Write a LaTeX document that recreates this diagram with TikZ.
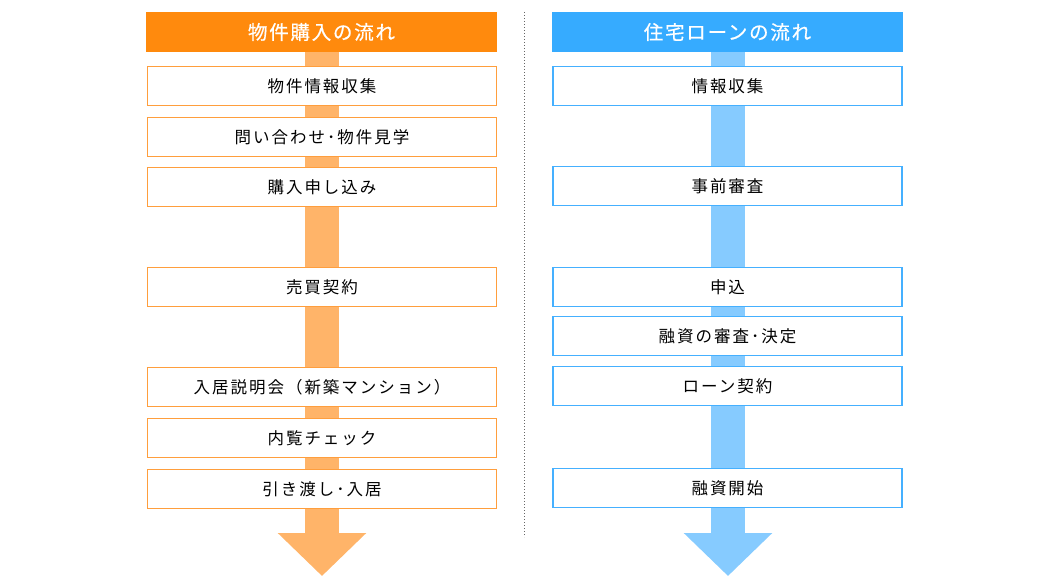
\documentclass[tikz,border=0pt]{standalone}
\usepackage{fontspec}
\setmainfont{Noto Sans CJK JP}
\usetikzlibrary{arrows.meta,backgrounds}

\definecolor{buyhead}{HTML}{FF8A0D}
\definecolor{buyline}{HTML}{FF9E3D}
\definecolor{buyshaft}{HTML}{FFB469}
\definecolor{loanhead}{HTML}{36ABFF}
\definecolor{loanline}{HTML}{45B0FF}
\definecolor{loanshaft}{HTML}{86CBFF}

\begin{document}
\begin{tikzpicture}[x=1pt, y=-1pt,
    head/.style={fill=#1, minimum width=351pt, minimum height=40pt, inner sep=0pt,
      text=white, font=\fontsize{19.5}{22}\selectfont\addfontfeature{LetterSpace=9,FakeBold=0.6}},
    stepbox/.style={draw=#1, line width=1.2pt, fill=white, minimum width=349pt,
      minimum height=39pt, inner sep=0pt,
      font=\fontsize{16.5}{19}\selectfont\addfontfeature{LetterSpace=12}},
    shaft/.style={#1, line width=34pt, -{Triangle[width=86pt, length=43pt]}}]
    \useasboundingbox (0,0) rectangle (1050,586);

    % Purchase flow
    \node[head=buyhead] (buy) at (321.5,32) {物件購入の流れ};
    \node[stepbox=buyline] (b1) at (322,86) {物件情報収集};
    \node[stepbox=buyline] (b2) at (322,137) {問い合わせ･物件見学};
    \node[stepbox=buyline] (b3) at (322,187) {購入申し込み};
    \node[stepbox=buyline] (b4) at (322,287) {売買契約};
    \node[stepbox=buyline] (b5) at (322,387) {入居説明会（新築マンション）};
    \node[stepbox=buyline] (b6) at (322,438) {内覧チェック};
    \node[stepbox=buyline] (b7) at (322,489) {引き渡し･入居};
    \coordinate (buyend) at (322,576);

    % Loan flow
    \node[head=loanhead] (loan) at (727.5,32) {住宅ローンの流れ};
    \node[stepbox=loanline] (l1) at (727.5,86) {情報収集};
    \node[stepbox=loanline] (l2) at (727.5,186) {事前審査};
    \node[stepbox=loanline] (l3) at (727.5,287) {申込};
    \node[stepbox=loanline] (l4) at (727.5,336) {融資の審査･決定};
    \node[stepbox=loanline] (l5) at (727.5,386) {ローン契約};
    \node[stepbox=loanline] (l6) at (727.5,488) {融資開始};
    \coordinate (loanend) at (728,576);

    % Arrows behind the boxes
    \begin{scope}[on background layer]
        \draw[shaft=buyshaft] (buy.south -| buyend) -- (buyend);
        \draw[shaft=loanshaft] (loan.south -| loanend) -- (loanend);
    \end{scope}

    % Divider
    \coordinate (divtop) at (524,12);
    \coordinate (divbot) at (524,537);
    \draw[gray!80!black, line width=1pt, dash pattern=on 1pt off 2pt] (divtop) -- (divbot);
\end{tikzpicture}
\end{document}
